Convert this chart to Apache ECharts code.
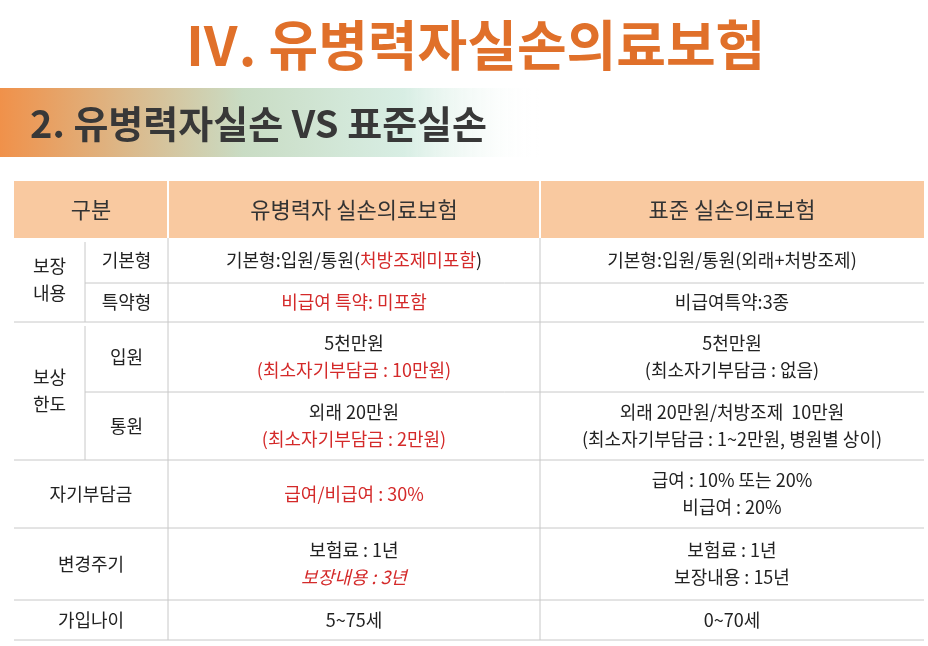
<!DOCTYPE html>
<html>
<head>
<meta charset="utf-8">
<script src="https://cdn.jsdelivr.net/npm/echarts@6/dist/echarts.min.js"></script>
<style>
  html, body { margin: 0; padding: 0; background: #fff; }
  #main { width: 928px; height: 646px; }
</style>
</head>
<body>
<div id="main"></div>
<script>
const chart = echarts.init(document.getElementById('main'))

const title = 'Ⅳ. 유병력자실손의료보험'
const subtitle = '2. 유병력자실손 VS 표준실손'
const headers = ['구분', '유병력자 실손의료보험', '표준 실손의료보험']

// {r|...} = red, {i|...} = red italic
const groups = [
  { name: '보장\n내용', rows: [
    ['기본형', '기본형:입원/통원({r|처방조제미포함})', '기본형:입원/통원(외래+처방조제)'],
    ['특약형', '{r|비급여 특약: 미포함}', '비급여특약:3종']
  ]},
  { name: '보상\n한도', rows: [
    ['입원', '5천만원\n{r|(최소자기부담금 : 10만원)}', '5천만원\n(최소자기부담금 : 없음)'],
    ['통원', '외래 20만원\n{r|(최소자기부담금 : 2만원)}', '외래 20만원/처방조제  10만원\n(최소자기부담금 : 1~2만원, 병원별 상이)']
  ]},
  { name: '자기부담금', rows: [[null, '{r|급여/비급여 : 30%}', '급여 : 10% 또는 20%\n비급여 : 20%']] },
  { name: '변경주기', rows: [[null, '보험료 : 1년\n{i|보장내용 : 3년}', '보험료 : 1년\n보장내용 : 15년']] },
  { name: '가입나이', rows: [[null, '5~75세', '0~70세']] }
]
const rowHeights = [45, 39, 70, 68, 68, 72, 40]

const colX = [14, 85, 168, 540, 924]
const headTop = 181, headBottom = 238
const font = '"Noto Sans CJK KR", sans-serif'
const lineColor = '#c8c8c8'

const g = []
g.push({ type: 'text', x: 475, y: 45,
  style: { text: title, font: 'bold 54px ' + font, fill: '#e0702a', align: 'center', verticalAlign: 'middle' } })
g.push({ type: 'rect', shape: { x: 0, y: 88, width: 540, height: 69 },
  style: { fill: new echarts.graphic.LinearGradient(0, 0, 1, 0, [
    { offset: 0, color: '#f0914a' }, { offset: 0.45, color: '#c9dcc4' },
    { offset: 0.75, color: '#d8eee4' }, { offset: 1, color: 'rgba(255,255,255,0)' }]) } })
g.push({ type: 'text', x: 30, y: 124,
  style: { text: subtitle, font: 'bold 38px ' + font, fill: '#383838', verticalAlign: 'middle' } })

// header
g.push({ type: 'rect', shape: { x: colX[0], y: headTop, width: colX[4] - colX[0], height: headBottom - headTop },
  style: { fill: '#f9c9a0' } })
const headSpans = [[colX[0], colX[2]], [colX[2], colX[3]], [colX[3], colX[4]]]
headers.forEach((h, i) => {
  g.push({ type: 'text', x: (headSpans[i][0] + headSpans[i][1]) / 2, y: (headTop + headBottom) / 2,
    style: { text: h, font: '22px ' + font, fill: '#333', align: 'center', verticalAlign: 'middle' } })
})
;[colX[2], colX[3]].forEach(x => g.push({ type: 'line', shape: { x1: x, y1: headTop, x2: x, y2: headBottom },
  style: { stroke: '#fff', lineWidth: 2 } }))

const rich = {
  r: { fill: '#d42a2a', font: '18px ' + font, lineHeight: 27 },
  i: { fill: '#d42a2a', font: 'italic 18px ' + font, lineHeight: 27 }
}
function cellText(x, y, text) {
  g.push({ type: 'text', x: x, y: y,
    style: { text: text, rich: rich, font: '18px ' + font, lineHeight: 27, fill: '#222',
      align: 'center', verticalAlign: 'middle' } })
}
function hline(x1, x2, y) {
  g.push({ type: 'line', shape: { x1: x1, y1: y, x2: x2, y2: y }, style: { stroke: lineColor, lineWidth: 1 } })
}
function vline(x, y1, y2) {
  g.push({ type: 'line', shape: { x1: x, y1: y1, x2: x, y2: y2 }, style: { stroke: lineColor, lineWidth: 1 } })
}

let y = headBottom, ri = 0
groups.forEach(grp => {
  const top = y
  grp.rows.forEach((row, k) => {
    const h = rowHeights[ri++]
    if (row[0] !== null) {
      cellText((colX[1] + colX[2]) / 2, y + h / 2, row[0])
      if (k > 0) hline(colX[1], colX[4], y)
    }
    cellText((colX[2] + colX[3]) / 2, y + h / 2, row[1])
    cellText((colX[3] + colX[4]) / 2, y + h / 2, row[2])
    y += h
  })
  const sub = grp.rows[0][0] !== null
  cellText(sub ? (colX[0] + colX[1]) / 2 : (colX[0] + colX[2]) / 2, (top + y) / 2, grp.name)
  if (sub) vline(colX[1], top + 4, y)
  hline(colX[0], colX[4], y)
})
vline(colX[2], headBottom, y)
vline(colX[3], headBottom, y)

chart.setOption({ animation: false, graphic: g })
</script>
</body>
</html>
